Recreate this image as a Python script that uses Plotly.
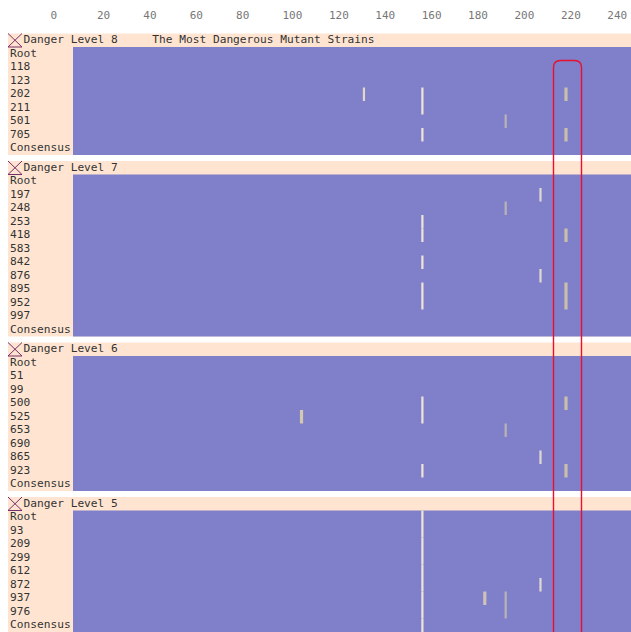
import plotly.graph_objects as go

tick_values = list(range(0, 241, 20))
group_names = ["Danger Level 8", "Danger Level 7", "Danger Level 6", "Danger Level 5"]
group_note = "The Most Dangerous Mutant Strains"
strains_8 = ["Root", "118", "123", "202", "211", "501", "705", "Consensus"]
strains_7 = ["Root", "197", "248", "253", "418", "583", "842", "876", "895", "952", "997", "Consensus"]
strains_6 = ["Root", "51", "99", "500", "525", "653", "690", "865", "923", "Consensus"]
strains_5 = ["Root", "93", "209", "299", "612", "872", "937", "976", "Consensus"]
mutations_8 = {"202": [135.1, 160.3, 222.2], "211": [160.3], "501": [196.2], "705": [160.3, 222.2]}
mutations_7 = {"197": [211.2], "248": [196.2], "253": [160.3], "418": [160.3, 222.2], "842": [160.3],
               "876": [211.2], "895": [160.3, 222.2], "952": [160.3, 222.2]}
mutations_6 = {"500": [160.3, 222.2], "525": [108.2, 160.3], "653": [196.2], "865": [211.2], "923": [160.3, 222.2]}
mutations_5 = {"Root": [160.3], "93": [160.3], "209": [160.3], "299": [160.3], "612": [160.3],
               "872": [160.3, 211.2], "937": [160.3, 187.2, 196.2], "976": [160.3, 196.2], "Consensus": [160.3]}
selection_range = [216.81, 228.88]

groups = list(zip(group_names,
                  [strains_8, strains_7, strains_6, strains_5],
                  [mutations_8, mutations_7, mutations_6, mutations_5]))

PEACH, BLUE = "#FFE5D1", "#7F7FCA"
FONT = "DejaVu Sans Mono"
style = {160.3: ("#EFE2D8", 0.96), 222.2: ("#CBBFAB", 1.37), 196.2: ("#B9B3B3", 0.96),
         211.2: ("#E0D8D2", 0.96), 187.2: ("#CFC3B6", 1.37), 135.1: ("#E2D8C6", 0.96),
         108.2: ("#D4C8AE", 1.37)}

PX = 2.32
ZERO = 50.5
ROW = 13.5
W, H, TOP = 631, 632, 22
ORIGIN = 33.5
GAP = 6 / ROW
xr = [-ZERO / PX, (W - ZERO) / PX]
yr = [(H - ORIGIN) / ROW, (TOP - ORIGIN) / ROW]
left = (8 - ZERO) / PX
panel = (73 - ZERO) / PX
text_x = (10 - ZERO) / PX
head_x = (23.5 - ZERO) / PX
note_x = (152.3 - ZERO) / PX

shapes, bx, bb, bc, bw, tx, ty, tt = [], [], [], [], [], [], [], []
y = 0.0
for name, strains, muts in groups:
    n = len(strains)
    shapes.append(dict(type="rect", x0=left, x1=xr[1], y0=y, y1=y + 1 + n, fillcolor=PEACH, line_width=0, layer="below"))
    shapes.append(dict(type="rect", x0=panel, x1=xr[1], y0=y + 1, y1=y + 1 + n, fillcolor=BLUE, line_width=0, layer="below"))
    i0, i1 = left, (22 - ZERO) / PX
    shapes.append(dict(type="path", path=f"M{i0},{y} L{i1},{y + 1} L{i0},{y + 1} L{i1},{y}",
                       line=dict(color="#7A2A66", width=1), layer="above"))
    tx.append(head_x); ty.append(y + 0.5); tt.append(name)
    if name == group_names[0]:
        tx.append(note_x); ty.append(y + 0.5); tt.append(group_note)
    for r, s in enumerate(strains):
        row = y + 1 + r
        tx.append(text_x); ty.append(row + 0.5); tt.append(s)
        for p in muts.get(s, []):
            bx.append(p); bb.append(row); bc.append(style[p][0]); bw.append(style[p][1])
    y += 1 + n + GAP

fig = go.Figure()
fig.add_bar(x=bx, y=[1] * len(bx), base=bb, width=bw, marker=dict(color=bc, line_width=0), hoverinfo="skip")
fig.add_scatter(x=tx, y=ty, text=tt, mode="text", textposition="middle right",
                textfont=dict(family=FONT, size=11.2, color="#333333"), hoverinfo="skip")

sx0, sx1 = selection_range
top_y = (60.5 - ORIGIN) / ROW
rx, ry = 7 / PX, 7 / ROW
shapes.append(dict(type="path",
                   path=f"M{sx0},{yr[0]} L{sx0},{top_y + ry} Q{sx0},{top_y} {sx0 + rx},{top_y} "
                        f"L{sx1 - rx},{top_y} Q{sx1},{top_y} {sx1},{top_y + ry} L{sx1},{yr[0]}",
                   line=dict(color="#E8102E", width=1.4), layer="above"))

fig.update_layout(
    width=W, height=H, margin=dict(l=0, r=0, t=TOP, b=0),
    paper_bgcolor="white", plot_bgcolor="white", showlegend=False, barmode="overlay",
    shapes=shapes,
    xaxis=dict(range=xr, side="top", tickvals=tick_values, showgrid=False, zeroline=False, showline=False,
               ticks="", ticklabelposition="outside right",
               tickfont=dict(family=FONT, size=11, color="#777777")),
    yaxis=dict(range=yr, visible=False, showgrid=False, zeroline=False),
)
fig.write_html("out.html", config={"displayModeBar": False},
               post_script="document.body.style.margin='0';document.body.style.overflow='hidden';")
